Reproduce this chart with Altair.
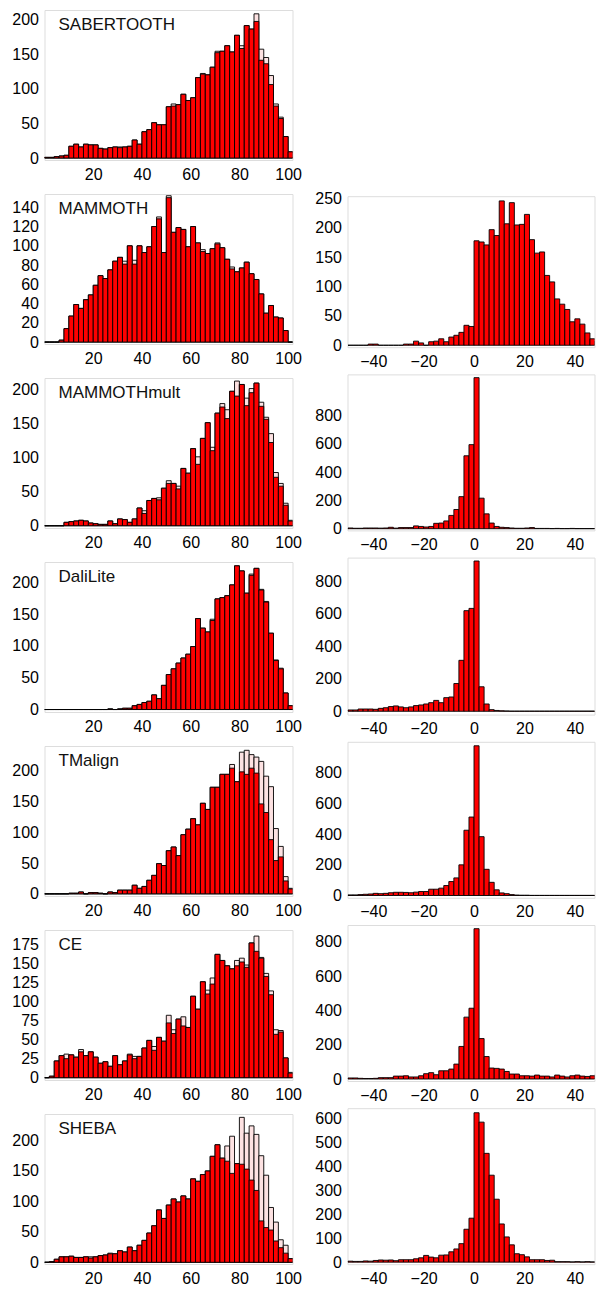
import altair as alt
import pandas as pd

FONT = "Liberation Sans"

# ---------------- data ----------------
LEFT_EDGES = list(range(0, 104, 2))      # bins 0-2 ... 100-102
RIGHT_EDGES = list(range(-50, 54, 2))    # bins -50..-48 ... 50-52
LEFT_XTICKS = [20, 40, 60, 80, 100]
RIGHT_XTICKS = [-40, -20, 0, 20, 40]

names = ["SABERTOOTH", "MAMMOTH", "MAMMOTHmult", "DaliLite", "TMalign", "CE", "SHEBA"]

sabertooth_red = [1, 1, 2, 3, 4, 17, 20, 16, 20, 19, 19, 14, 13, 15, 16, 15, 16, 17, 26, 20,
                  38, 41, 51, 48, 48, 74, 75, 77, 92, 83, 87, 116, 121, 120, 131, 152, 154, 162, 153, 177,
                  158, 191, 186, 197, 141, 136, 106, 75, 57, 31, 9]
sabertooth_pink = [1, 1, 2, 3, 4, 17, 20, 16, 20, 19, 19, 14, 13, 15, 16, 16, 16, 17, 26, 20,
                   38, 41, 51, 48, 48, 74, 78, 77, 92, 83, 87, 116, 122, 120, 131, 154, 154, 162, 153, 177,
                   162, 191, 186, 208, 157, 145, 119, 78, 59, 31, 9]

mammoth_red = [0, 0, 0, 2, 14, 27, 39, 35, 44, 49, 59, 69, 66, 75, 84, 88, 81, 100, 81, 100,
               93, 99, 120, 128, 93, 150, 114, 119, 117, 99, 120, 103, 94, 92, 97, 102, 98, 86, 76, 73,
               77, 83, 71, 65, 50, 30, 38, 26, 25, 12, 0]
mammoth_pink = [0, 0, 0, 2, 14, 27, 39, 35, 44, 49, 59, 69, 66, 75, 84, 88, 84, 100, 85, 100,
                93, 99, 120, 130, 93, 152, 114, 119, 117, 99, 120, 103, 96, 92, 97, 103, 98, 86, 78, 73,
                77, 83, 71, 65, 50, 30, 38, 26, 25, 12, 0]

mmult_red = [0, 0, 0, 0, 5, 6, 7, 8, 7, 4, 3, 2, 2, 7, 3, 10, 9, 5, 10, 26,
             18, 37, 40, 38, 55, 62, 62, 54, 84, 77, 113, 90, 128, 151, 110, 165, 174, 157, 197, 190,
             207, 176, 195, 209, 175, 156, 122, 71, 58, 30, 7]
mmult_pink = [0, 0, 0, 0, 5, 6, 7, 8, 7, 4, 3, 2, 2, 7, 3, 10, 9, 5, 10, 26,
              22, 37, 40, 41, 55, 66, 62, 58, 84, 77, 113, 101, 128, 151, 115, 165, 179, 170, 197, 212,
              207, 187, 201, 209, 181, 159, 135, 78, 62, 33, 8]

dali_red = [0, 0, 0, 0, 0, 0, 0, 0, 0, 0, 0, 0, 0, 1, 0, 1, 2, 2, 6, 8,
            11, 13, 23, 17, 38, 55, 64, 73, 81, 87, 99, 143, 128, 122, 140, 174, 176, 179, 196, 226,
            218, 183, 211, 222, 188, 169, 120, 77, 64, 26, 6]
dali_pink = [0, 0, 0, 0, 0, 0, 0, 0, 0, 0, 0, 0, 0, 1, 0, 1, 2, 2, 6, 8,
             11, 13, 23, 17, 38, 55, 64, 73, 81, 87, 99, 143, 128, 122, 142, 174, 176, 179, 196, 226,
             218, 183, 213, 222, 189, 170, 120, 78, 65, 26, 6]

tm_red = [0, 0, 0, 0, 0, 1, 1, 3, 0, 2, 2, 1, 0, 3, 2, 6, 6, 6, 14, 9,
          12, 22, 30, 49, 46, 70, 76, 62, 96, 105, 122, 112, 147, 137, 173, 173, 194, 194, 204, 182,
          198, 194, 204, 196, 146, 132, 88, 54, 60, 21, 8]
tm_pink = [0, 0, 0, 0, 0, 1, 1, 3, 0, 2, 2, 1, 0, 3, 2, 6, 6, 6, 14, 9,
           12, 22, 30, 49, 46, 70, 76, 62, 96, 105, 122, 112, 147, 137, 173, 173, 194, 194, 210, 182,
           230, 233, 226, 222, 215, 191, 174, 106, 77, 28, 9]

ce_red = [0, 2, 22, 29, 25, 30, 27, 34, 29, 34, 27, 19, 21, 15, 29, 17, 22, 30, 25, 28,
          39, 49, 36, 53, 48, 72, 58, 77, 68, 66, 107, 90, 126, 110, 123, 162, 154, 147, 143, 147,
          152, 145, 177, 166, 157, 133, 109, 57, 60, 26, 6]
ce_pink = [0, 2, 22, 29, 31, 30, 27, 37, 29, 34, 27, 19, 21, 15, 29, 17, 22, 31, 28, 28,
           39, 49, 41, 53, 48, 82, 63, 77, 80, 66, 107, 90, 126, 115, 131, 162, 154, 147, 143, 154,
           157, 148, 177, 186, 158, 137, 114, 63, 62, 26, 7]

sheba_red = [0, 1, 5, 9, 9, 10, 8, 8, 9, 7, 9, 11, 12, 14, 14, 19, 17, 25, 19, 28,
             36, 48, 60, 86, 72, 94, 104, 99, 109, 104, 137, 133, 144, 150, 174, 193, 171, 166, 146, 162,
             161, 153, 135, 118, 68, 57, 53, 35, 24, 15, 6]
sheba_pink = [0, 1, 5, 9, 9, 10, 8, 8, 9, 9, 9, 11, 12, 15, 14, 19, 17, 25, 19, 28,
              36, 48, 60, 86, 72, 94, 104, 99, 109, 104, 137, 133, 144, 150, 174, 193, 171, 191, 207, 162,
              238, 212, 224, 210, 175, 143, 90, 66, 37, 28, 6]

mammoth_diff = [0, 0, 0, 0, 2, 2, 0, 0, 0, 0, 0, 2, 2, 7, 4, 0, 6, 7, 11, 6,
                14, 17, 22, 34, 32, 178, 176, 171, 197, 187, 246, 207, 243, 205, 206, 223, 180, 157, 159, 119,
                108, 79, 70, 61, 40, 45, 36, 21, 11, 7, 7]
mmult_diff = [5, 3, 3, 5, 5, 5, 4, 5, 10, 4, 8, 8, 8, 20, 16, 12, 16, 38, 40, 55,
              94, 136, 227, 516, 595, 1069, 216, 105, 40, 16, 10, 8, 5, 3, 3, 5, 8, 2, 2, 2,
              1, 2, 1, 1, 2, 1, 1, 1, 1, 1, 1]
dali_diff = [8, 8, 14, 14, 14, 12, 18, 22, 29, 33, 27, 22, 27, 35, 39, 45, 53, 67, 53, 84,
             88, 171, 314, 620, 634, 926, 151, 45, 10, 5, 3, 2, 1, 1, 1, 1, 1, 1, 1, 1,
             1, 1, 1, 1, 1, 1, 1, 1, 1, 1, 1]
tm_diff = [4, 4, 6, 8, 10, 14, 12, 14, 18, 21, 21, 20, 18, 22, 26, 26, 41, 41, 48, 65,
           91, 115, 200, 426, 512, 977, 384, 171, 86, 37, 17, 12, 6, 3, 2, 2, 1, 1, 1, 1,
           1, 1, 1, 1, 1, 1, 1, 1, 1, 1, 1]
ce_diff = [6, 6, 4, 3, 3, 4, 8, 8, 8, 17, 17, 19, 12, 12, 19, 31, 37, 25, 48, 48,
           58, 87, 190, 361, 413, 877, 236, 131, 64, 62, 58, 44, 29, 29, 19, 19, 17, 23, 17, 17,
           12, 23, 17, 12, 19, 23, 17, 15, 19, 25, 23]
sheba_diff = [4, 3, 3, 5, 4, 7, 9, 8, 9, 6, 10, 10, 10, 14, 18, 28, 21, 18, 29, 30,
              43, 55, 77, 137, 183, 622, 583, 453, 362, 262, 159, 105, 72, 35, 31, 22, 10, 10, 10, 7,
              8, 2, 2, 2, 1, 2, 1, 2, 1, 1, 1]

left_series = [
    (sabertooth_red, sabertooth_pink, (-2.8, 213.5), [0, 50, 100, 150, 200]),
    (mammoth_red, mammoth_pink, (-2.0, 153.8), [0, 20, 40, 60, 80, 100, 120, 140]),
    (mmult_red, mmult_pink, (-3.3, 216.5), [0, 50, 100, 150, 200]),
    (dali_red, dali_pink, (-3.9, 232.0), [0, 50, 100, 150, 200]),
    (tm_red, tm_pink, (-3.5, 240.0), [0, 50, 100, 150, 200]),
    (ce_red, ce_pink, (-3.0, 194.0), [0, 25, 50, 75, 100, 125, 150, 175]),
    (sheba_red, sheba_pink, (-2.8, 243.5), [0, 50, 100, 150, 200]),
]
right_series = [
    (mammoth_diff, (-3.3, 254.0), [0, 50, 100, 150, 200, 250], 151),
    (mmult_diff, (-12.0, 1092.0), [0, 200, 400, 600, 800], 156),
    (dali_diff, (-20.5, 947.0), [0, 200, 400, 600, 800], 157),
    (tm_diff, (-15.0, 1003.0), [0, 200, 400, 600, 800], 156),
    (ce_diff, (-11.6, 898.6), [0, 200, 400, 600, 800], 156),
    (sheba_diff, (-8.6, 641.0), [0, 100, 200, 300, 400, 500, 600], 156),
]

# ---------------- styling ----------------
RED = "#ff0000"
PINK = "#fde2e2"
LEFT_W, LEFT_H = 248, 150
RIGHT_W = 247
LEFT_DOMAIN = [0, 101.8]
RIGHT_DOMAIN = [-50.2, 47.8]


def xaxis(vals):
    return alt.Axis(values=vals, title=None, ticks=False, domain=False, grid=False,
                    labelPadding=6, labelFlush=False, labelFont=FONT, labelFontSize=16,
                    labelColor="black")


def yaxis(vals):
    return alt.Axis(values=vals, title=None, ticks=False, domain=False, grid=False,
                    labelPadding=6, labelFont=FONT, labelFontSize=16, labelColor="black")


def left_panel(name, red, pink, dom, yt):
    df = pd.DataFrame({"x0": LEFT_EDGES[:-1], "x1": LEFT_EDGES[1:], "red": red, "pink": pink})
    x = alt.X("x0:Q", scale=alt.Scale(domain=LEFT_DOMAIN, nice=False, zero=False), axis=xaxis(LEFT_XTICKS))
    ysc = alt.Scale(domain=list(dom), nice=False, zero=False)
    base = alt.Chart(df).encode(x=x, x2="x1:Q")
    pink_l = base.mark_rect(fill=PINK, stroke="black", strokeWidth=0.9, clip=True).encode(
        y=alt.Y("pink:Q", scale=ysc, axis=yaxis(yt)), y2=alt.datum(0))
    red_l = base.mark_rect(fill=RED, stroke="black", strokeWidth=0.9, clip=True).encode(
        y=alt.Y("red:Q", scale=ysc, axis=yaxis(yt)), y2=alt.datum(0))
    txt = alt.Chart(pd.DataFrame({"t": [name]})).mark_text(
        align="left", baseline="alphabetic", font=FONT, fontSize=17, color="#111"
    ).encode(x=alt.value(14), y=alt.value(20), text="t:N")
    return alt.layer(pink_l, red_l, txt).properties(width=LEFT_W, height=LEFT_H)


def right_panel(vals, dom, yt, h):
    df = pd.DataFrame({"x0": RIGHT_EDGES[:-1], "x1": RIGHT_EDGES[1:], "v": vals})
    return alt.Chart(df).mark_rect(fill=RED, stroke="black", strokeWidth=0.9, clip=True).encode(
        x=alt.X("x0:Q", scale=alt.Scale(domain=RIGHT_DOMAIN, nice=False, zero=False), axis=xaxis(RIGHT_XTICKS)),
        x2="x1:Q",
        y=alt.Y("v:Q", scale=alt.Scale(domain=list(dom), nice=False, zero=False), axis=yaxis(yt)),
        y2=alt.datum(0),
    ).properties(width=RIGHT_W, height=h)


left_panels = [left_panel(n, r, p, d, t) for n, (r, p, d, t) in zip(names, left_series)]
right_panels = [right_panel(v, d, t, h) for (v, d, t, h) in right_series]

spacer = alt.Chart(pd.DataFrame({"a": [0]})).mark_point(opacity=0).encode(
    x=alt.X("a:Q", axis=None), y=alt.Y("a:Q", axis=None)
).properties(width=RIGHT_W, height=158.8, view=alt.ViewBackground(stroke="transparent"))

left_col = alt.vconcat(*left_panels, spacing=34.0, bounds="flush")
right_col = alt.vconcat(spacer, *right_panels, spacing=27.2, bounds="flush")

chart = alt.hconcat(left_col, right_col, spacing=11, bounds="full").properties(
    padding={"left": 2.5, "top": 1, "right": 0, "bottom": 0}
).configure_view(stroke="black", strokeWidth=1).configure(background="white")

chart.save("out.html", embed_options={"renderer": "svg", "actions": False})
